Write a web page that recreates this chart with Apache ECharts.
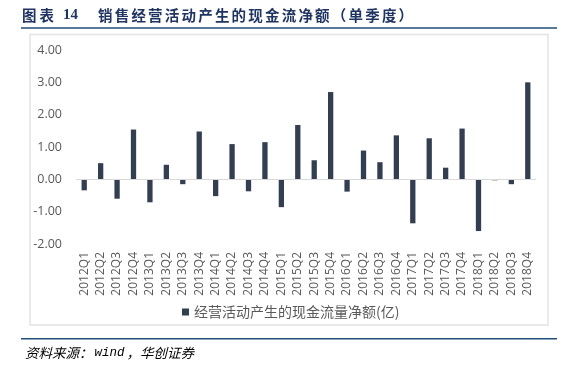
<!DOCTYPE html>
<html>
<head>
<meta charset="utf-8">
<script src="https://cdn.jsdelivr.net/npm/echarts@6/dist/echarts.min.js"></script>
<style>
html,body{margin:0;padding:0;background:#fff;}
#chart{width:567px;height:366px;}
</style>
</head>
<body>
<div id="chart"></div>
<script>
var categories = ['2012Q1','2012Q2','2012Q3','2012Q4','2013Q1','2013Q2','2013Q3','2013Q4',
  '2014Q1','2014Q2','2014Q3','2014Q4','2015Q1','2015Q2','2015Q3','2015Q4',
  '2016Q1','2016Q2','2016Q3','2016Q4','2017Q1','2017Q2','2017Q3','2017Q4',
  '2018Q1','2018Q2','2018Q3','2018Q4'];
var netCashFlow = [-0.34, 0.50, -0.60, 1.54, -0.71, 0.45, -0.15, 1.48,
  -0.52, 1.09, -0.37, 1.15, -0.86, 1.68, 0.59, 2.70,
  -0.38, 0.89, 0.53, 1.36, -1.36, 1.27, 0.36, 1.57,
  -1.60, -0.03, -0.15, 3.00];
var seriesName = '经营活动产生的现金流量净额(亿)';
var titlePrefix = '图表';
var titleNumber = '14';
var titleText = '销售经营活动产生的现金流净额（单季度）';
var sourceLead = '资料来源：';
var sourceWind = 'wind';
var sourceTail = '，华创证券';
var yMin = -2, yMax = 4, yInterval = 1;

var titleColor = '#1f3460';
var cjkFont = '"Noto Sans CJK SC", sans-serif';
var graphics = [];
// title: prefix characters
titlePrefix.split('').forEach(function (ch, i) {
  graphics.push({ type: 'text', x: 22 + i * 17.5, y: 15, z: 10,
    style: { text: ch, fontSize: 14.5, fontWeight: 'bold', fill: titleColor, fontFamily: cjkFont, verticalAlign: 'middle' } });
});
graphics.push({ type: 'text', x: 63, y: 15, z: 10,
  style: { text: titleNumber, fontSize: 15, fontWeight: 'bold', fill: titleColor, fontFamily: '"Liberation Serif", serif', verticalAlign: 'middle' } });
titleText.split('').forEach(function (ch, i) {
  graphics.push({ type: 'text', x: 98 + i * 16.7, y: 15, z: 10,
    style: { text: ch, fontSize: 14.5, fontWeight: 'bold', fill: titleColor, fontFamily: cjkFont, verticalAlign: 'middle' } });
});
graphics.push(
  { type: 'rect', shape: { x: 21, y: 27.3, width: 536, height: 1.4 }, style: { fill: '#1f4e79' }, z: 10 },
  { type: 'rect', shape: { x: 30, y: 34.5, width: 518, height: 290.5 },
    style: { fill: 'none', stroke: '#e3e3e3', lineWidth: 1.5 }, z: -1 },
  { type: 'rect', shape: { x: 21, y: 338, width: 536, height: 1.4 }, style: { fill: '#1f4e79' }, z: 10 },
  { type: 'text', x: 25, y: 353, z: 10,
    style: {
      text: '{a|' + sourceLead + '}{b|' + sourceWind + '}{a|' + sourceTail + '}',
      verticalAlign: 'middle',
      rich: {
        a: { fontSize: 13.5, fontStyle: 'italic', color: '#1f4e79', fontFamily: cjkFont },
        b: { fontSize: 12.5, fontStyle: 'italic', color: '#1f4e79', fontFamily: '"Liberation Mono", monospace', padding: [0, 2, 0, 2] }
      }
    } }
);

var chart = echarts.init(document.getElementById('chart'));
chart.setOption({
  animation: false,
  backgroundColor: '#fff',
  textStyle: { fontFamily: '"Open Sans", "Noto Sans CJK SC", sans-serif' },
  grid: { left: 76, right: 31, top: 50, bottom: 122 },
  legend: {
    data: [seriesName],
    left: 177, top: 300,
    icon: 'rect', itemWidth: 7, itemHeight: 7, itemGap: 4,
    textStyle: { fontSize: 14, color: '#595959', fontFamily: cjkFont }
  },
  xAxis: {
    type: 'category',
    data: categories,
    axisLine: { show: false },
    axisTick: { show: false },
    axisLabel: { rotate: 90, interval: 0, fontSize: 12, color: '#595959', margin: 8 }
  },
  yAxis: {
    type: 'value',
    min: yMin, max: yMax, interval: yInterval,
    splitLine: { show: false },
    axisLine: { show: false },
    axisTick: { show: false },
    axisLabel: { fontSize: 12.5, color: '#595959', margin: 14, formatter: function (v) { return v.toFixed(2); } }
  },
  series: [{
    name: seriesName,
    type: 'bar',
    data: netCashFlow,
    barWidth: 5.3,
    itemStyle: { color: '#333f50' },
    markLine: {
      silent: true, symbol: 'none', label: { show: false },
      lineStyle: { color: '#d9d9d9', type: 'solid', width: 1 },
      data: [{ yAxis: 0 }]
    }
  }],
  graphic: graphics
});
</script>
</body>
</html>
